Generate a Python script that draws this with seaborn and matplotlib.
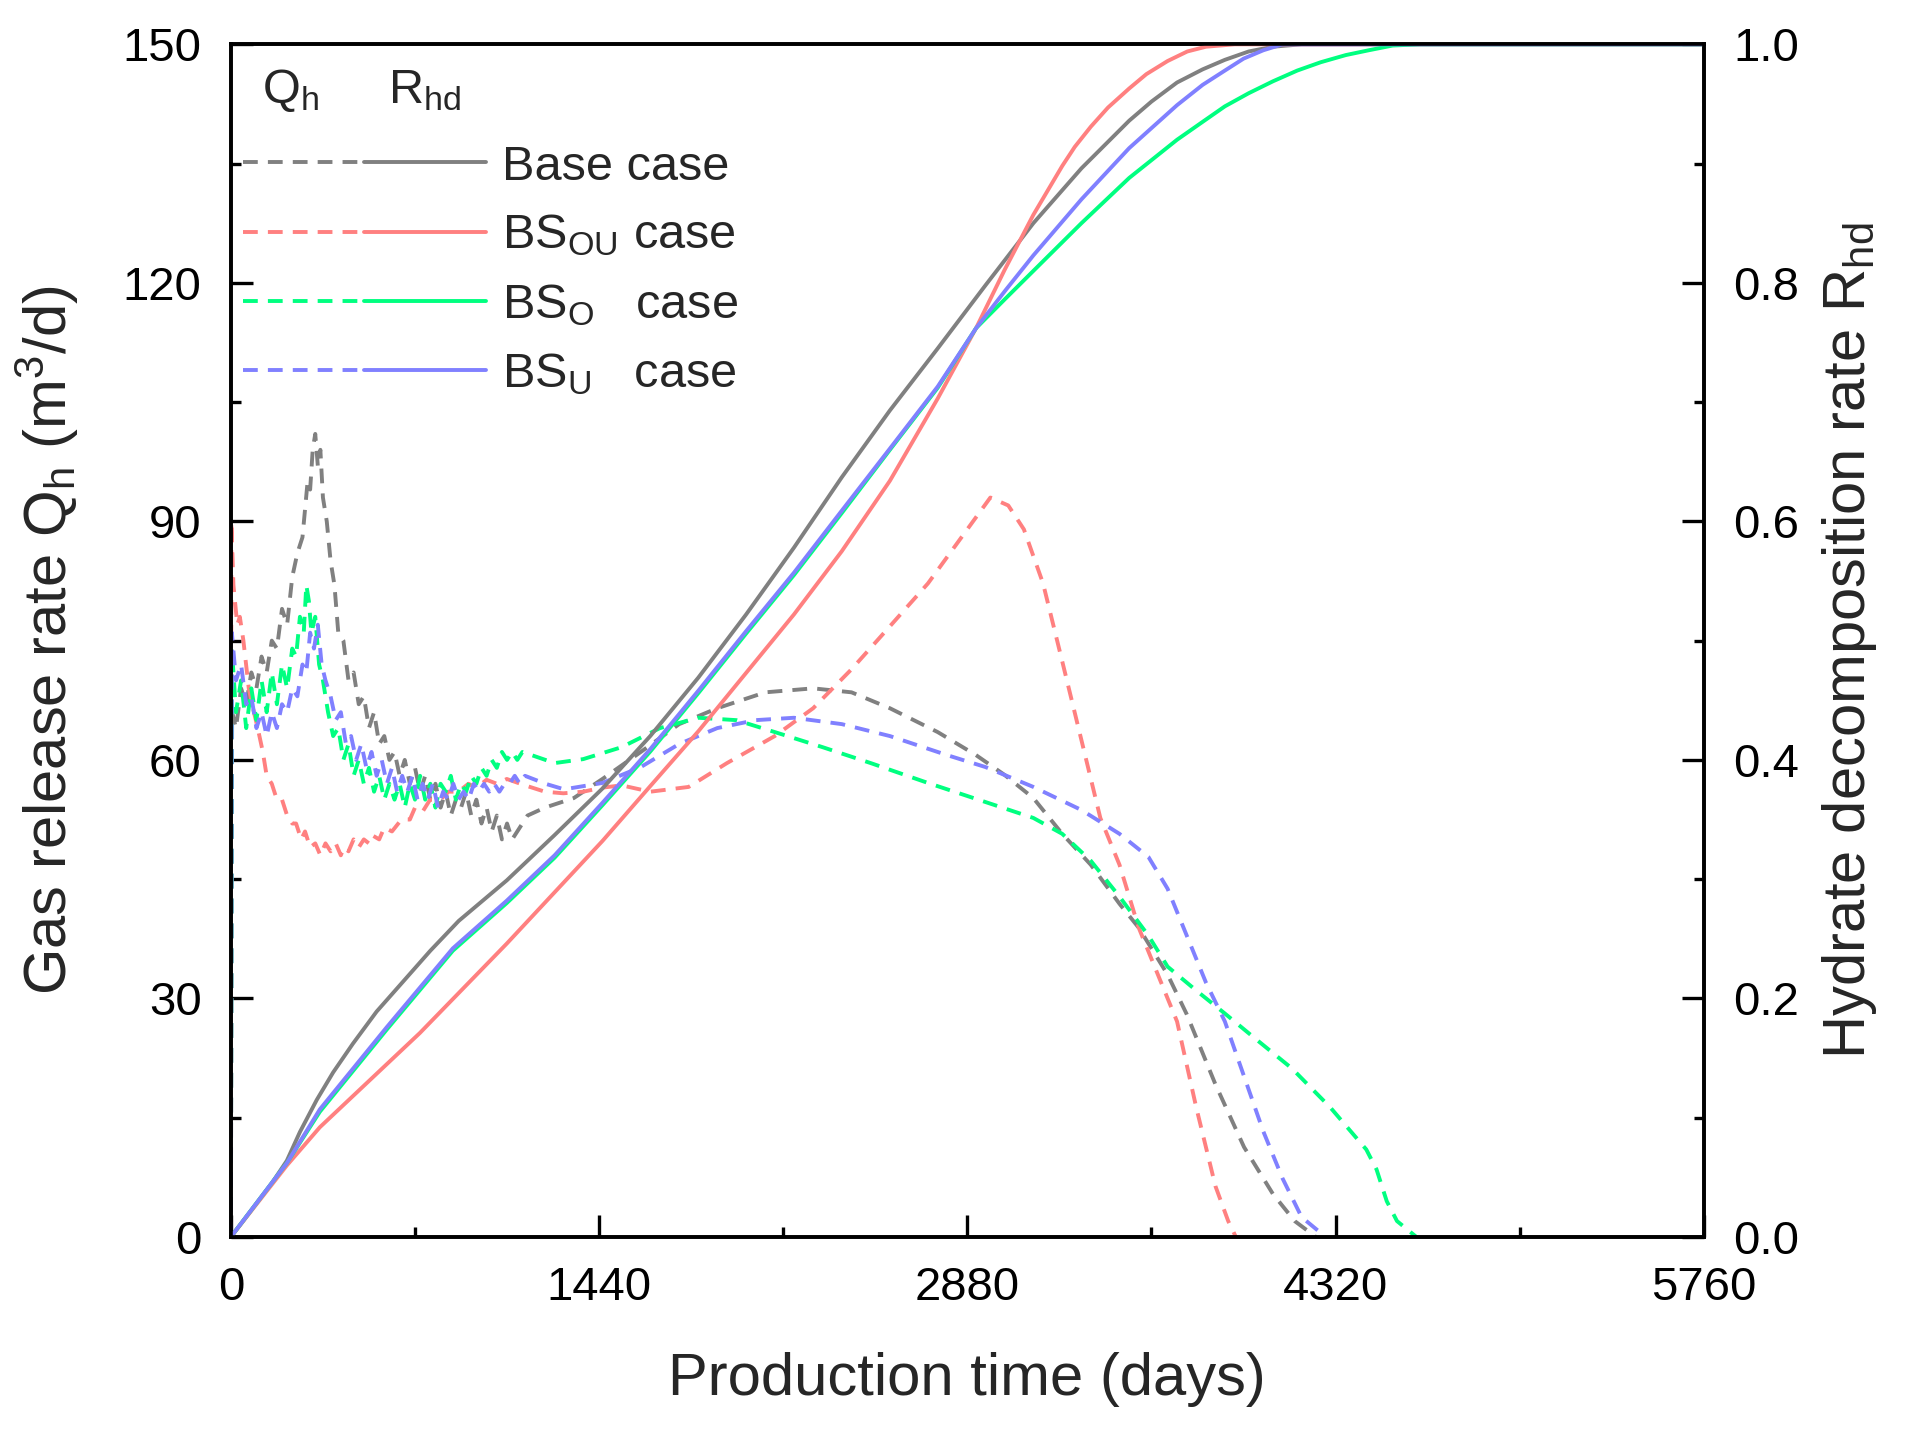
import numpy as np
import seaborn as sns
import matplotlib.pyplot as plt
from matplotlib.lines import Line2D
from matplotlib.legend_handler import HandlerTuple
from matplotlib.ticker import MultipleLocator, FormatStrFormatter

# ---------------- gas release rate Q_h (m3/d), dashed, left axis
base_q_days = [0, 5, 20, 40, 60, 80, 100, 120, 140, 160, 180, 200, 220, 240, 260, 280, 300, 310, 320, 330,
               340, 350, 360, 375, 390, 405, 420, 440, 460, 480, 500, 520, 540, 560, 580, 600, 620, 640, 660, 680,
               700, 720, 740, 760, 780, 800, 820, 840, 860, 880, 900, 920, 940, 960, 980, 1000, 1020, 1040, 1060, 1080,
               1100, 1120, 1140, 1160, 1228, 1341, 1453, 1603, 1753, 1902, 2090, 2277, 2427, 2577, 2764, 2914, 3026,
               3138, 3251, 3363, 3475, 3550, 3663, 3738, 3850, 3962, 4075, 4160, 4243]
base_q = [0, 66, 64, 69, 67, 71, 69, 73, 71, 75, 74, 79, 77, 83, 86, 88, 95, 94, 99, 101,
          97, 99, 93, 90, 85, 82, 76, 75, 70, 71, 67, 68, 64, 66, 62, 63, 60, 61, 58, 60,
          57, 59, 56, 58, 55, 57, 54, 56, 53, 55, 54, 56, 53, 55, 52, 54, 51, 53, 50, 52,
          50, 51, 52, 53, 54, 55.2, 57.6, 61, 64.5, 66.5, 68.5, 69, 68.5, 66.5, 63.5, 60.6, 58.1,
          55.2, 50.7, 46.8, 41.9, 38.9, 33, 28, 19.2, 11.3, 5.4, 2, 0]

bsou_q_days = [0, 2, 10, 25, 35, 49, 70, 90, 105, 125, 140, 160, 180, 200, 220, 240, 255, 275, 290, 310,
               330, 350, 370, 390, 410, 430, 442, 460, 480, 500, 520, 540, 554, 580, 600, 630, 667, 700, 720, 750,
               779, 820, 850, 890, 929, 960, 1000, 1040, 1079, 1150, 1228, 1300, 1378, 1450, 1528, 1640, 1790, 1940,
               2127, 2277, 2427, 2577, 2726, 2839, 2970, 3040, 3101, 3176, 3251, 3326, 3400, 3475, 3550, 3625, 3700,
               3775, 3850, 3900, 3930]
bsou_q = [0, 90, 82, 77, 78, 75, 69, 66, 64, 61, 58, 57, 55, 55, 53, 52, 52, 50, 51, 49,
          49.5, 48, 49.5, 48.5, 49.5, 48, 49, 48.5, 50, 49, 50, 49.5, 50.5, 50, 51.5, 51, 52.5, 52.5, 54, 53.5,
          55, 55, 56, 56, 57, 56.5, 57.5, 57, 57.6, 56.8, 56, 55.8, 56, 56.5, 56.8, 56, 56.6, 59.6,
          63, 66.5, 71.4, 76.8, 82.2, 87.2, 93, 92, 89, 82.2, 72.4, 62.5, 52.7, 46.8, 38.9, 33, 27.1,
          16.3, 6.4, 2, 0]

bso_q_days = [0, 4, 20, 40, 60, 80, 100, 120, 140, 160, 180, 200, 220, 240, 255, 270, 285, 295, 305, 315,
              330, 345, 360, 380, 400, 420, 440, 460, 480, 500, 520, 540, 560, 580, 600, 620, 640, 660, 680, 700,
              720, 740, 760, 780, 800, 820, 840, 860, 880, 900, 920, 940, 960, 980, 1000, 1020, 1040, 1060, 1080, 1100,
              1120, 1140, 1266, 1378, 1528, 1678, 1828, 1977, 2127, 2314, 2502, 2726, 2951, 3138, 3251, 3363, 3475,
              3588, 3663, 3775, 3887, 4000, 4149, 4299, 4400, 4440, 4480, 4520, 4560, 4636]
bso_q = [0, 74, 66, 70, 64, 69, 65, 70, 66, 71, 67, 72, 69, 74, 73, 78, 76, 82, 80, 76,
         78, 72, 70, 66, 63, 64, 60, 62, 58, 60, 57, 59, 56, 58, 55, 57, 55, 57, 54, 57,
         55, 58, 55, 57, 54, 57, 56, 58, 55, 57, 56, 58, 57, 59, 58, 60, 59, 61, 60, 61,
         60, 61, 59.6, 60.1, 61.6, 64, 65.3, 65, 63.5, 61.6, 59.6, 57.1, 54.7, 52.7, 50.7, 47.3, 42.8,
         37.9, 34, 31, 28.1, 25.1, 21.2, 16.3, 12.5, 11, 8.5, 4.5, 2, 0]

bsu_q_days = [0, 4, 20, 40, 60, 80, 100, 120, 140, 160, 180, 200, 220, 240, 260, 280, 295, 310, 325, 340,
              355, 370, 390, 410, 430, 450, 470, 490, 510, 530, 550, 570, 590, 610, 630, 650, 670, 690, 710, 730,
              750, 770, 790, 810, 830, 850, 870, 890, 910, 930, 950, 970, 990, 1010, 1030, 1050, 1070, 1090, 1110, 1130,
              1150, 1230, 1303, 1453, 1603, 1753, 1902, 2052, 2202, 2389, 2577, 2801, 2951, 3138, 3326, 3475, 3588,
              3663, 3738, 3813, 3887, 3962, 4037, 4112, 4187, 4281]
bsu_q = [0, 76, 70, 72, 67, 68, 64, 66, 63, 66, 64, 67, 66, 69, 68, 72, 71, 76, 74, 77,
         72, 70, 68, 65, 66, 62, 63, 60, 62, 59, 61, 58, 60, 57, 59, 56, 58, 56, 58, 55,
         57, 55, 57, 54, 56, 55, 57, 55, 56, 55, 57, 56, 57, 56, 57, 56, 57, 57, 58, 57,
         58, 57, 56.3, 57.1, 59.1, 62, 64, 65, 65.3, 64.5, 63, 60.6, 59.1, 56.6, 53.7, 50.7, 47.8,
         43.8, 37.9, 32, 27.1, 20.2, 13.3, 7.4, 2.5, 0]

# ---------------- hydrate decomposition rate R_hd, solid, right axis
base_r_days = [0, 100, 160, 219, 270, 336, 400, 477, 570, 673, 780, 891, 1079, 1266, 1453, 1640, 1828, 2015,
               2202, 2389, 2577, 2764, 2951, 3138, 3326, 3513, 3600, 3700, 3800, 3887, 3980, 4075, 4187, 5760]
base_r = [0, 0.028, 0.045, 0.064, 0.088, 0.115, 0.138, 0.162, 0.189, 0.214, 0.24, 0.265, 0.299, 0.337, 0.376,
          0.42, 0.469, 0.522, 0.578, 0.637, 0.693, 0.745, 0.798, 0.85, 0.896, 0.936, 0.952, 0.968, 0.979,
          0.987, 0.994, 0.998, 1.0, 1.0]

bsou_r_days = [0, 219, 348, 739, 1079, 1266, 1453, 1640, 1828, 2015, 2202, 2389, 2577, 2764, 2914, 3026, 3138,
               3251, 3300, 3363, 3430, 3513, 3580, 3663, 3740, 3813, 3925, 5760]
bsou_r = [0, 0.06, 0.092, 0.171, 0.246, 0.289, 0.332, 0.378, 0.424, 0.473, 0.522, 0.575, 0.634, 0.703, 0.762,
          0.811, 0.857, 0.898, 0.914, 0.931, 0.947, 0.963, 0.975, 0.986, 0.994, 0.998, 1.0, 1.0]

bso_r_days = [0, 219, 348, 610, 868, 1079, 1266, 1453, 1640, 1828, 2015, 2202, 2389, 2577, 2764, 2914, 3030,
              3138, 3326, 3513, 3700, 3800, 3887, 3980, 4075, 4170, 4262, 4360, 4449, 4543, 4650, 5760]
bso_r = [0, 0.062, 0.105, 0.174, 0.24, 0.28, 0.318, 0.362, 0.407, 0.456, 0.506, 0.555, 0.607, 0.66, 0.712,
         0.762, 0.787, 0.81, 0.85, 0.888, 0.92, 0.935, 0.948, 0.959, 0.969, 0.978, 0.985, 0.991, 0.995, 0.999,
         1.0, 1.0]

bsu_r_days = [0, 219, 348, 610, 868, 1079, 1266, 1453, 1640, 1828, 2015, 2202, 2389, 2577, 2764, 2914, 3030,
              3138, 3326, 3513, 3700, 3800, 3887, 3960, 4037, 4112, 5760]
bsu_r = [0, 0.062, 0.107, 0.176, 0.242, 0.282, 0.32, 0.364, 0.409, 0.458, 0.508, 0.557, 0.609, 0.661, 0.713,
         0.762, 0.794, 0.823, 0.87, 0.913, 0.949, 0.966, 0.978, 0.988, 0.995, 1.0, 1.0]

case_labels = ["Base case", "BS$_{OU}$ case", "BS$_{O}$   case", "BS$_{U}$   case"]
case_colors = ["#808080", "#ff8080", "#00ff80", "#8080ff"]

q_series = [(base_q_days, base_q), (bsou_q_days, bsou_q), (bso_q_days, bso_q), (bsu_q_days, bsu_q)]
r_series = [(base_r_days, base_r), (bsou_r_days, bsou_r), (bso_r_days, bso_r), (bsu_r_days, bsu_r)]

sns.set_theme(style="ticks")
plt.rcParams["font.family"] = ["Liberation Sans", "DejaVu Sans"]
plt.rcParams["mathtext.default"] = "regular"

fig = plt.figure(figsize=(19.08, 14.30), dpi=100)
ax = fig.add_axes([0.121, 0.135, 0.772, 0.834])
ax2 = ax.twinx()

lw = 2.8
dash = (0, (3.8, 2.6))

for (d, v), c in zip(q_series, case_colors):
    sns.lineplot(x=d, y=v, ax=ax, color=c, lw=lw, linestyle=dash, estimator=None, sort=False)
for (d, v), c in zip(r_series, case_colors):
    sns.lineplot(x=d, y=v, ax=ax2, color=c, lw=lw, estimator=None, sort=False)

ax.set_xlim(0, 5760)
ax.set_ylim(0, 150)
ax2.set_ylim(0, 1.0)
ax.xaxis.set_major_locator(MultipleLocator(1440))
ax.xaxis.set_minor_locator(MultipleLocator(720))
ax.yaxis.set_major_locator(MultipleLocator(30))
ax.yaxis.set_minor_locator(MultipleLocator(15))
ax2.yaxis.set_major_locator(MultipleLocator(0.2))
ax2.yaxis.set_minor_locator(MultipleLocator(0.1))
ax2.yaxis.set_major_formatter(FormatStrFormatter("%.1f"))

for a in (ax, ax2):
    a.tick_params(which="both", direction="in", width=2.4, colors="black", labelsize=34, pad=21)
    a.tick_params(which="major", length=16)
    a.tick_params(which="minor", length=7.5)
    for s in a.spines.values():
        s.set_linewidth(2.6)
        s.set_color("black")
ax.tick_params(which="both", top=False, right=False)
ax2.tick_params(which="both", left=False, right=True)

ax.set_xlabel("Production time (days)", fontsize=43, labelpad=30)
ax.set_ylabel("Gas release rate Q$_h$ (m$^3$/d)", fontsize=43, labelpad=30)
ax2.set_ylabel("Hydrate decomposition rate R$_{hd}$", fontsize=43, labelpad=15)

# legend header: Q_h for the dashed half, R_hd for the solid half
ax2.text(0.021, 0.981, "Q$_h$     R$_{hd}$", transform=ax2.transAxes, fontsize=35,
         ha="left", va="top")

handles = [(Line2D([], [], color=c, lw=lw, linestyle=dash), Line2D([], [], color=c, lw=lw))
           for c in case_colors]
ax2.legend(handles, case_labels, handler_map={tuple: HandlerTuple(ndivide=None, pad=0)},
           loc="upper left", bbox_to_anchor=(0.008, 0.916), frameon=False, fontsize=35,
           handlelength=5.0, handletextpad=0.33, labelspacing=0.48, borderpad=0, borderaxespad=0)

fig.savefig("out.png", dpi=100)
